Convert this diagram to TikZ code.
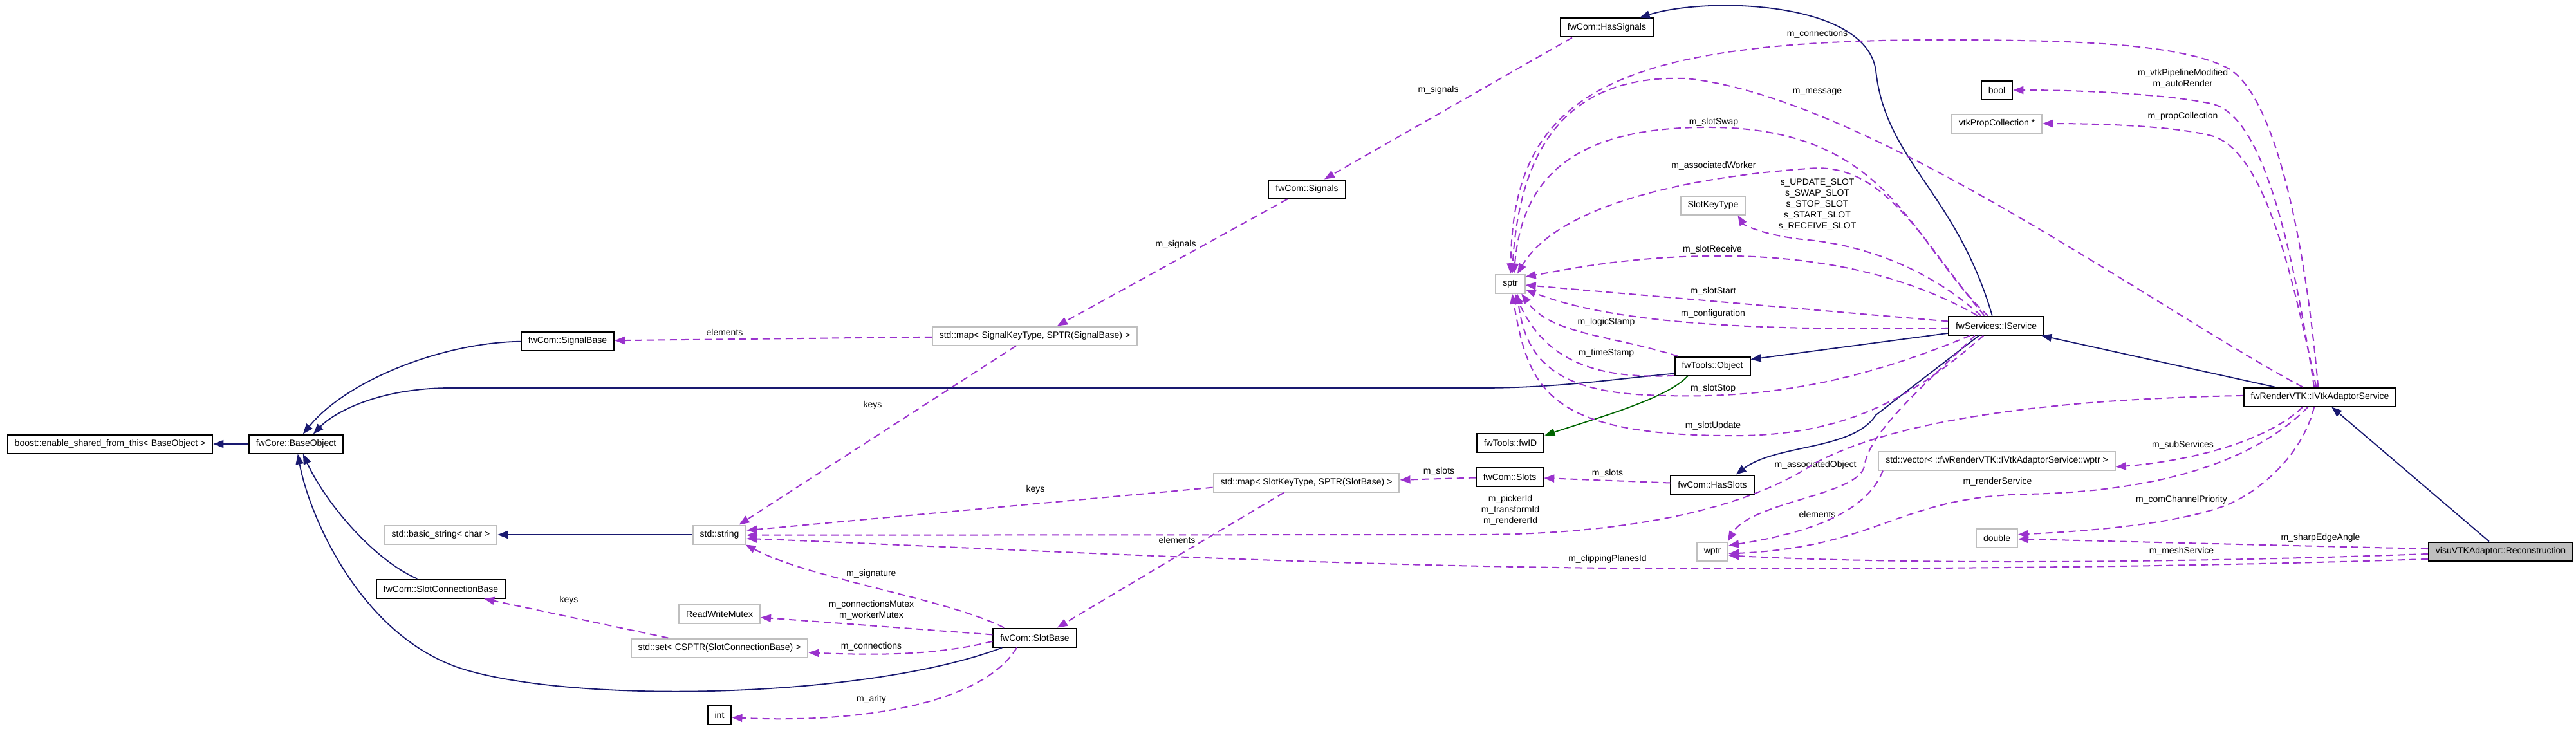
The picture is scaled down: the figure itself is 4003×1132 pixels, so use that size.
\documentclass[tikz,border=0pt]{standalone}
\usepackage{fontspec}
\setmainfont{Liberation Sans}
\usepackage{xcolor}
\usetikzlibrary{arrows.meta}
\definecolor{navy}{HTML}{191970}
\definecolor{orchid}{HTML}{9A32CD}
\definecolor{dkgreen}{HTML}{006400}
\definecolor{boxgray}{HTML}{BFBFBF}

\begin{document}
\begin{tikzpicture}[
        x=1pt, y=-1pt,
        font=\fontsize{14}{17}\selectfont,
        cls/.style={draw=black, line width=2pt, fill=white, minimum height=29pt,
            inner xsep=11pt, inner ysep=0pt},
        ext/.style={cls, draw=boxgray},
        cur/.style={cls, fill=boxgray},
        inh/.style={-{Triangle[length=16pt, width=12pt]}, navy, line width=1.8pt},
        prot/.style={inh, dkgreen},
        member/.style={-{Triangle[length=16pt, width=12pt]}, orchid, line width=2pt,
            dash pattern=on 11pt off 7pt},
        lbl/.style={align=center, inner sep=0pt, text=black},
    ]
        \useasboundingbox (0,0) rectangle (4003,1132);

        % left part: base object, signals, strings
        \node[cls] (boost) at (171,690) {boost::enable\_shared\_from\_this< BaseObject >};
        \node[cls] (baseobj) at (460,690) {fwCore::BaseObject};
        \node[cls] (sigbase) at (882,530) {fwCom::SignalBase};
        \node[ext] (mapsig) at (1608,522) {std::map< SignalKeyType, SPTR(SignalBase) >};
        \node[cls] (signals) at (2031,294) {fwCom::Signals};
        \node[cls] (hassig) at (2497,43) {fwCom::HasSignals};
        \node[ext] (basicstr) at (685,831) {std::basic\_string< char >};
        \node[ext] (string) at (1118,831) {std::string};
        \node[cls] (slotconn) at (685,915) {fwCom::SlotConnectionBase};
        \node[ext] (rwmutex) at (1118,954) {ReadWriteMutex};
        \node[ext] (setconn) at (1118,1007) {std::set< CSPTR(SlotConnectionBase) >};
        \node[cls] (int) at (1118,1111) {int};
        \node[cls] (slotbase) at (1608,991) {fwCom::SlotBase};
        \node[ext] (mapslot) at (2030,750) {std::map< SlotKeyType, SPTR(SlotBase) >};

        % middle part: sptr, services, slots
        \node[ext] (sptr) at (2347,441) {sptr};
        \node[ext] (slotkey) at (2662,319) {SlotKeyType};
        \node[cls] (object) at (2661,569) {fwTools::Object};
        \node[cls] (fwid) at (2347,688) {fwTools::fwID};
        \node[cls] (slots) at (2346,741) {fwCom::Slots};
        \node[cls] (hasslots) at (2661,753) {fwCom::HasSlots};
        \node[ext] (wptr) at (2661,857) {wptr};
        \node[cls] (iservice) at (3102,506) {fwServices::IService};

        % right part: adaptor service and its members
        \node[cls] (bool) at (3103,140) {bool};
        \node[ext] (vtkprop) at (3103,192) {vtkPropCollection *};
        \node[ext] (vector) at (3103,716) {std::vector< ::fwRenderVTK::IVtkAdaptorService::wptr >};
        \node[ext] (double) at (3103,836) {double};
        \node[cls] (ivtk) at (3605,617) {fwRenderVTK::IVtkAdaptorService};
        \node[cur] (recon) at (3886,857) {visuVTKAdaptor::Reconstruction};

        % inheritance
        \draw[inh] (baseobj) -- (boost);
        \draw[inh] (sigbase) .. controls (690,532) and (540,590) .. (baseobj.55);
        \draw[inh] (object.191) .. controls (2500,590) and (2420,603) .. (2300,603)
            -- (700,603) .. controls (590,603) and (520,640) .. (baseobj.30);
        \draw[inh] (slotconn.157) .. controls (580,870) and (505,780) .. (baseobj.-55);
        \draw[inh] (slotbase.197) .. controls (1350,1085) and (900,1095) .. (720,1040)
            .. controls (560,990) and (480,800) .. (baseobj.-80);
        \draw[inh] (string) -- (basicstr);
        \draw[inh] (iservice.189) -- (object.10);
        \draw[inh] (iservice.112) .. controls (3040,300) and (2930,250) .. (2915,110)
            .. controls (2900,0) and (2650,-5) .. (hassig.17);
        \draw[inh] (iservice.210) -- (2915,645) .. controls (2880,700) and (2760,690) .. (hasslots.23);
        \draw[inh] (ivtk) -- (iservice);
        \draw[inh] (recon) -- (ivtk);
        \draw[prot] (object.202) .. controls (2590,620) and (2480,650) .. (fwid.12);

        % members of the signal and slot classes
        \draw[member] (mapsig) -- (sigbase) node[lbl] at (1126,516) {elements};
        \draw[member] (mapsig.208) -- (string.27) node[lbl] at (1356,630) {keys};
        \draw[member] (signals.207) -- (mapsig.24) node[lbl] at (1827,380) {m\_signals};
        \draw[member] (hassig.196) -- (signals.30) node[lbl] at (2235,140) {m\_signals};
        \draw[member] (mapslot.183) -- (string.9) node[lbl] at (1609,761) {keys};
        \draw[member] (mapslot.204) -- (slotbase.24) node[lbl] at (1829,839) {elements};
        \draw[member] (slots) -- (mapslot) node[lbl] at (2236,733) {m\_slots};
        \draw[member] (hasslots) -- (slots) node[lbl] at (2498,736) {m\_slots};
        \draw[member] (setconn.169) -- (slotconn.-13) node[lbl] at (884,933) {keys};
        \draw[member] (slotbase.162) .. controls (1470,930) and (1260,900) .. (string.-21)
            node[lbl] at (1354,892) {m\_signature};
        \draw[member] (slotbase.176) -- (rwmutex.-5)
            node[lbl] at (1354,948) {m\_connectionsMutex\\m\_workerMutex};
        \draw[member] (slotbase.185) .. controls (1450,1020) and (1350,1018) .. (setconn.-3)
            node[lbl] at (1354,1005) {m\_connections};
        \draw[member] (slotbase.209) .. controls (1530,1090) and (1350,1125) .. (int.-12)
            node[lbl] at (1354,1087) {m\_arity};

        % members pointing to sptr
        \draw[member] (object.164) .. controls (2500,520) and (2410,520) .. (sptr.-42)
            node[lbl] at (2496,501) {m\_logicStamp};
        \draw[member] (object.194) .. controls (2480,590) and (2400,560) .. (sptr.-65)
            node[lbl] at (2496,549) {m\_timeStamp};
        \draw[member] (iservice.175) -- (sptr.-5) node[lbl] at (2662,453) {m\_slotStart};
        \draw[member] (iservice.183) .. controls (2700,515) and (2500,500) .. (sptr.-21)
            node[lbl] at (2662,488) {m\_configuration};
        \draw[member] (iservice.201) .. controls (2850,610) and (2700,620) .. (2560,614)
            .. controls (2420,608) and (2370,560) .. (sptr.-55)
            node[lbl] at (2662,604) {m\_slotStop};
        \draw[member] (iservice.218) .. controls (2960,630) and (2850,680) .. (2680,677)
            .. controls (2400,675) and (2375,600) .. (sptr.-80)
            node[lbl] at (2662,662) {m\_slotUpdate};
        \draw[member] (iservice.152) .. controls (2950,420) and (2800,395) .. (2650,398)
            .. controls (2520,400) and (2430,420) .. (sptr.25)
            node[lbl] at (2661,388) {m\_slotReceive};
        \draw[member] (iservice.147) .. controls (3000,420) and (2900,380) .. (2800,372)
            .. controls (2740,365) and (2710,350) .. (slotkey.-22)
            node[lbl] at (2824,318) {s\_UPDATE\_SLOT\\s\_SWAP\_SLOT\\s\_STOP\_SLOT\\s\_START\_SLOT\\s\_RECEIVE\_SLOT};
        \draw[member] (iservice.140) .. controls (2990,380) and (2930,250) .. (2810,262)
            .. controls (2620,275) and (2420,320) .. (sptr.55)
            node[lbl] at (2663,258) {m\_associatedWorker};
        \draw[member] (iservice.130) .. controls (2970,380) and (2940,200) .. (2660,198)
            .. controls (2440,196) and (2365,280) .. (sptr.70)
            node[lbl] at (2663,190) {m\_slotSwap};
        \draw[member] (ivtk.150) .. controls (3350,480) and (2900,150) .. (2620,122)
            .. controls (2420,115) and (2360,250) .. (sptr.80)
            node[lbl] at (2824,143) {m\_message};
        \draw[member] (ivtk.100) .. controls (3580,350) and (3530,140) .. (3460,105)
            .. controls (3380,65) and (3200,62) .. (3000,62)
            .. controls (2500,64) and (2350,150) .. (sptr.88)
            node[lbl] at (2824,53) {m\_connections};

        % members of the adaptor service
        \draw[member] (ivtk.120) .. controls (3550,300) and (3500,180) .. (3440,162)
            .. controls (3380,148) and (3250,140) .. (bool)
            node[lbl] at (3392,122) {m\_vtkPipelineModified\\m\_autoRender};
        \draw[member] (ivtk.110) .. controls (3560,420) and (3520,240) .. (3440,212)
            .. controls (3380,195) and (3250,192) .. (vtkprop)
            node[lbl] at (3392,181) {m\_propCollection};
        \draw[member] (iservice.205) .. controls (2990,600) and (2905,670) .. (2897,725)
            .. controls (2887,770) and (2720,780) .. (wptr.33)
            node[lbl] at (2821,723) {m\_associatedObject};
        \draw[member] (vector.185) .. controls (2900,800) and (2800,830) .. (wptr.20)
            node[lbl] at (2824,799) {elements};
        \draw[member] (ivtk.220) .. controls (3500,720) and (3350,764) .. (3150,768)
            .. controls (2950,772) and (2920,850) .. (wptr.-8)
            node[lbl] at (3104,749) {m\_renderService};
        \draw[member] (ivtk.210) .. controls (3530,680) and (3420,715) .. (vector.-3)
            node[lbl] at (3392,692) {m\_subServices};
        \draw[member] (ivtk.240) .. controls (3580,700) and (3520,760) .. (3460,785)
            .. controls (3380,815) and (3250,825) .. (double.9)
            node[lbl] at (3390,777) {m\_comChannelPriority};
        \draw[member] (ivtk.179) .. controls (3200,620) and (2950,650) .. (2820,720)
            .. controls (2700,800) and (2500,830) .. (2300,831) -- (string.-1)
            node[lbl] at (2347,793) {m\_pickerId\\m\_transformId\\m\_rendererId};
        \draw[member] (recon.178) -- (double.-3) node[lbl] at (3606,836) {m\_sharpEdgeAngle};
        \draw[member] (recon.182) .. controls (3300,878) and (2900,875) .. (wptr.-14)
            node[lbl] at (3390,857) {m\_meshService};
        \draw[member] (recon.186) .. controls (3300,885) and (2700,885) .. (2500,883)
            .. controls (2000,878) and (1500,850) .. (string.-8)
            node[lbl] at (2498,869) {m\_clippingPlanesId};
    \end{tikzpicture}
\end{document}
